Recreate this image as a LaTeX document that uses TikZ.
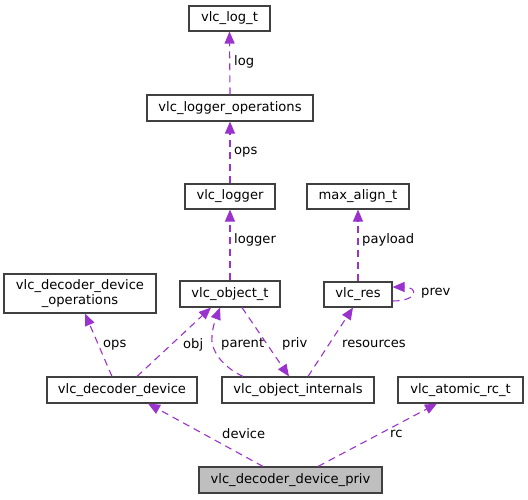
\documentclass[tikz,border=0pt]{standalone}
\usepackage{fontspec}
\setmainfont{DejaVu Sans}
\usetikzlibrary{arrows.meta}
\definecolor{edgec}{HTML}{9A32CD}
\definecolor{boxc}{HTML}{404040}
\definecolor{privfill}{HTML}{BFBFBF}
\tikzset{
  box/.style={draw=boxc, line width=1.1pt, inner sep=0pt, align=center,
    font=\fontsize{13.1}{15.5}\selectfont},
  lbl/.style={inner sep=0pt, anchor=west, font=\fontsize{13.1}{15.5}\selectfont},
  edge/.style={draw=edgec, line width=1.1pt, dash pattern=on 7pt off 5pt,
    -{Triangle[length=12pt,width=10pt,fill=edgec]}},
}
\begin{document}
\begin{tikzpicture}[x=1pt,y=-1pt]
\useasboundingbox (0,0) rectangle (528,499);
% nodes
\node[box, minimum width=81pt, minimum height=25pt] (logt) at (229.5,18.5) {vlc\_log\_t};
\node[box, minimum width=166pt, minimum height=26pt] (logops) at (230,108) {vlc\_logger\_operations};
\node[box, minimum width=90pt, minimum height=25pt] (logger) at (230,196.5) {vlc\_logger};
\node[box, minimum width=102pt, minimum height=25pt] (maxal) at (358,196.5) {max\_align\_t};
\node[box, minimum width=152pt, minimum height=39pt] (ddops) at (80,293.5) {vlc\_decoder\_device\\\_operations};
\node[box, minimum width=100pt, minimum height=26pt] (obj) at (230,294) {vlc\_object\_t};
\node[box, minimum width=68pt, minimum height=25pt] (res) at (358,294.5) {vlc\_res};
\node[box, minimum width=150pt, minimum height=26pt] (dd) at (122,390) {vlc\_decoder\_device};
\node[box, minimum width=152pt, minimum height=26pt] (int) at (298,390) {vlc\_object\_internals};
\node[box, minimum width=125pt, minimum height=26pt] (atomic) at (460.5,390) {vlc\_atomic\_rc\_t};
\node[box, fill=privfill, minimum width=183pt, minimum height=26pt] (priv) at (290.5,480) {vlc\_decoder\_device\_priv};
% edges
\draw[edge] (logops.north) -- (logt.south);
\draw[edge] (logger.north) -- (logops.south);
\draw[edge] (obj.north) -- (logger.south);
\draw[edge] (res.north) -- (maxal.south);
\draw[edge] ([yshift=-6.5pt]res.east) .. controls +(26,0) and +(26,0) .. ([yshift=7.5pt]res.east);
\draw[edge] ([xshift=-10pt]dd.north) -- ([xshift=5pt]ddops.south);
\draw[edge] ([xshift=15pt]dd.north) -- ([xshift=-19pt]obj.south);
\draw[edge] ([xshift=-55pt]int.north) .. controls +(-21,-10) and +(-2,15) .. (212,335) .. controls +(1,-10) and +(-3,8) .. ([xshift=-10pt]obj.south);
\draw[edge] ([xshift=12pt]obj.south) -- ([xshift=-9pt]int.north);
\draw[edge] ([xshift=10pt]int.north) -- ([xshift=-5pt]res.south);
\draw[edge] ([xshift=-27.5pt]priv.north) -- ([xshift=26pt]dd.south);
\draw[edge] ([xshift=27.5pt]priv.north) -- ([xshift=-23.5pt]atomic.south);
% labels
\node[lbl] (l1) at (234,62) {log};
\node[lbl] (l2) at (234,152) {ops};
\node[lbl] (l3) at (234,240) {logger};
\node[lbl] (l4) at (362,240) {payload};
\node[lbl] (l5) at (421,293) {prev};
\node[lbl] (l6) at (103,345) {ops};
\node[lbl] (l7) at (183,345) {obj};
\node[lbl] (l8) at (221,344) {parent};
\node[lbl] (l9) at (282,344) {priv};
\node[lbl] (l10) at (342,344) {resources};
\node[lbl] (l11) at (222,434) {device};
\node[lbl] (l12) at (390,434) {rc};
\end{tikzpicture}
\end{document}
